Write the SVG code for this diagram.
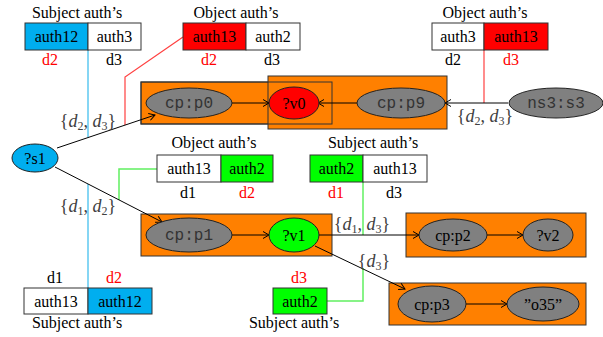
<svg xmlns="http://www.w3.org/2000/svg" width="603" height="337" viewBox="0 0 603 337">
<defs>
<marker id="arr" markerWidth="8" markerHeight="8" refX="7" refY="4" orient="auto" markerUnits="userSpaceOnUse">
<path d="M1,0.5 L7,4 L1,7.5" fill="none" stroke="#000" stroke-width="1"/>
</marker>
</defs>
<style>
text{font-family:"Liberation Serif","Times New Roman",serif;font-size:16px;fill:#000}
.c{text-anchor:middle}
.r{fill:#ff0000}
.mono{font-family:"Liberation Mono","Courier New",monospace;fill:#333}
.math{fill:#404040;font-size:18px}
.sub{font-size:12px}
.cell{stroke:#333;stroke-width:1}
.grp{fill:#ff8000;stroke:#333;stroke-width:1}
.gnode{fill:#808080;stroke:#222;stroke-width:1}
.edge{stroke:#000;stroke-width:1;fill:none;marker-end:url(#arr)}
.bl{stroke:#5ec8f0;stroke-width:1.5;fill:none}
.rl{stroke:#ff4040;stroke-width:1.2;fill:none}
.gl{stroke:#60f060;stroke-width:1.5;fill:none}
</style>
<rect width="603" height="337" fill="#fff"/>

<!-- group boxes -->
<g id="groups">
<rect class="grp" x="141" y="82" width="191" height="42"/>
<rect class="grp" x="268" y="76" width="179" height="53"/>
<rect x="141" y="82" width="191" height="42" fill="none" stroke="#333"/>
<rect class="grp" x="141" y="214" width="191" height="42"/>
<rect class="grp" x="406" y="213" width="180" height="44"/>
<rect class="grp" x="389" y="283" width="197" height="42"/>
</g>

<!-- auth annotation lines -->
<g id="authlines">
<path class="bl" d="M88,50 L88,137"/>
<path class="bl" d="M88,184 L88,288"/>
<path class="rl" d="M183,37 L125,77 L125,125"/>
<path class="rl" d="M484,50 L484,103"/>
<path class="gl" d="M157,169 L119,169 L119,200"/>
<path class="gl" d="M363,182 L363,235"/>
<path class="gl" d="M327,301 L363,301 L363,268"/>
</g>

<g id="connectors">
<path class="edge" d="M57,148 L155,115"/>
<path class="edge" d="M55,167 L162,222"/>
<path class="edge" d="M232,103 L269,103"/>
<path class="edge" d="M357,103 L318,103"/>
<path class="edge" d="M508,103 L445,103"/>
<path class="edge" d="M232,235 L269,235"/>
<path class="edge" d="M319,235 L419,235"/>
<path class="edge" d="M315,246 L405,289"/>
<path class="edge" d="M487,235 L523,235"/>
<path class="edge" d="M466,304 L507,304"/>
<text class="c math" x="88" y="127">{<tspan font-style="italic">d</tspan><tspan class="sub" dy="3">2</tspan><tspan dy="-3">, </tspan><tspan font-style="italic">d</tspan><tspan class="sub" dy="3">3</tspan><tspan dy="-3">}</tspan></text>
<text class="c math" x="88" y="212">{<tspan font-style="italic">d</tspan><tspan class="sub" dy="3">1</tspan><tspan dy="-3">, </tspan><tspan font-style="italic">d</tspan><tspan class="sub" dy="3">2</tspan><tspan dy="-3">}</tspan></text>
<text class="c math" x="485" y="122">{<tspan font-style="italic">d</tspan><tspan class="sub" dy="3">2</tspan><tspan dy="-3">, </tspan><tspan font-style="italic">d</tspan><tspan class="sub" dy="3">3</tspan><tspan dy="-3">}</tspan></text>
<text class="c math" x="362" y="230">{<tspan font-style="italic">d</tspan><tspan class="sub" dy="3">1</tspan><tspan dy="-3">, </tspan><tspan font-style="italic">d</tspan><tspan class="sub" dy="3">3</tspan><tspan dy="-3">}</tspan></text>
<text class="c math" x="374" y="267">{<tspan font-style="italic">d</tspan><tspan class="sub" dy="3">3</tspan><tspan dy="-3">}</tspan></text>
</g>

<!-- nodes -->
<g id="s1"><ellipse cx="35" cy="158" rx="23" ry="14" fill="#00aeef" stroke="#222"/><text class="c" x="35" y="163.5">?s1</text></g>
<g id="p0"><ellipse class="gnode" cx="189" cy="103" rx="43" ry="15"/><text class="c mono" x="189" y="108">cp:p0</text></g>
<g id="v0"><ellipse cx="294" cy="103" rx="25" ry="16" fill="#ff0000" stroke="#222"/><text class="c" x="294" y="108.5">?v0</text></g>
<g id="p9"><ellipse class="gnode" cx="401" cy="103" rx="44" ry="15"/><text class="c mono" x="401" y="108">cp:p9</text></g>
<g id="s3"><ellipse class="gnode" cx="556" cy="103" rx="47" ry="15"/><text class="c mono" x="556" y="108">ns3:s3</text></g>
<g id="p1"><ellipse class="gnode" cx="189" cy="235" rx="43" ry="17"/><text class="c mono" x="189" y="240">cp:p1</text></g>
<g id="v1"><ellipse cx="294" cy="235" rx="25" ry="17" fill="#00ff00" stroke="#222"/><text class="c" x="294" y="240.5">?v1</text></g>
<g id="p2"><ellipse class="gnode" cx="453" cy="235" rx="34" ry="16"/><text class="c" x="453" y="240.5">cp:p2</text></g>
<g id="v2"><ellipse class="gnode" cx="548" cy="235" rx="25" ry="16"/><text class="c" x="548" y="240.5">?v2</text></g>
<g id="p3"><ellipse class="gnode" cx="432" cy="304" rx="34" ry="18"/><text class="c" x="432" y="309.5">cp:p3</text></g>
<g id="o35"><ellipse class="gnode" cx="543" cy="304" rx="36" ry="17"/><text class="c" x="543" y="309.5">”o35”</text></g>

<!-- auth tables -->
<g id="auth-tl">
<text class="c" x="77" y="18">Subject auth’s</text>
<rect class="cell" x="25" y="23" width="63" height="27" fill="#00aeef"/>
<rect class="cell" x="88" y="23" width="53" height="27" fill="#fff"/>
<text class="c" x="56.5" y="41.5">auth12</text><text class="c" x="114.5" y="41.5">auth3</text>
<text class="c r" x="50" y="65">d2</text><text class="c" x="114" y="65">d3</text>
</g>
<g id="auth-tm">
<text class="c" x="236" y="18">Object auth’s</text>
<rect class="cell" x="183" y="23" width="63" height="27" fill="#ff0000"/>
<rect class="cell" x="246" y="23" width="54" height="27" fill="#fff"/>
<text class="c" x="214.5" y="41.5">auth13</text><text class="c" x="273" y="41.5">auth2</text>
<text class="c r" x="209" y="65">d2</text><text class="c" x="272" y="65">d3</text>
</g>
<g id="auth-tr">
<text class="c" x="485" y="18">Object auth’s</text>
<rect class="cell" x="432" y="23" width="52" height="27" fill="#fff"/>
<rect class="cell" x="484" y="23" width="64" height="27" fill="#ff0000"/>
<text class="c" x="458" y="41.5">auth3</text><text class="c" x="516" y="41.5">auth13</text>
<text class="c" x="453" y="65">d2</text><text class="c r" x="511" y="65">d3</text>
</g>
<g id="auth-mm">
<text class="c" x="214" y="148">Object auth’s</text>
<rect class="cell" x="157" y="155" width="64" height="27" fill="#fff"/>
<rect class="cell" x="221" y="155" width="52" height="27" fill="#00ff00"/>
<text class="c" x="189" y="173.5">auth13</text><text class="c" x="247" y="173.5">auth2</text>
<text class="c" x="188" y="198">d1</text><text class="c r" x="247" y="198">d2</text>
</g>
<g id="auth-mr">
<text class="c" x="373" y="148">Subject auth’s</text>
<rect class="cell" x="310" y="155" width="53" height="27" fill="#00ff00"/>
<rect class="cell" x="363" y="155" width="64" height="27" fill="#fff"/>
<text class="c" x="336.5" y="173.5">auth2</text><text class="c" x="395" y="173.5">auth13</text>
<text class="c r" x="336" y="198">d1</text><text class="c" x="394" y="198">d3</text>
</g>
<g id="auth-bl">
<text class="c" x="55" y="283">d1</text><text class="c r" x="114" y="283">d2</text>
<rect class="cell" x="24" y="288" width="64" height="26" fill="#fff"/>
<rect class="cell" x="88" y="288" width="64" height="26" fill="#00aeef"/>
<text class="c" x="56" y="306.5">auth13</text><text class="c" x="120" y="306.5">auth12</text>
<text class="c" x="77" y="328">Subject auth’s</text>
</g>
<g id="auth-bm">
<text class="c r" x="299" y="283">d3</text>
<rect class="cell" x="273" y="288" width="54" height="26" fill="#00ff00"/>
<text class="c" x="300" y="306.5">auth2</text>
<text class="c" x="294" y="328">Subject auth’s</text>
</g>
</svg>
